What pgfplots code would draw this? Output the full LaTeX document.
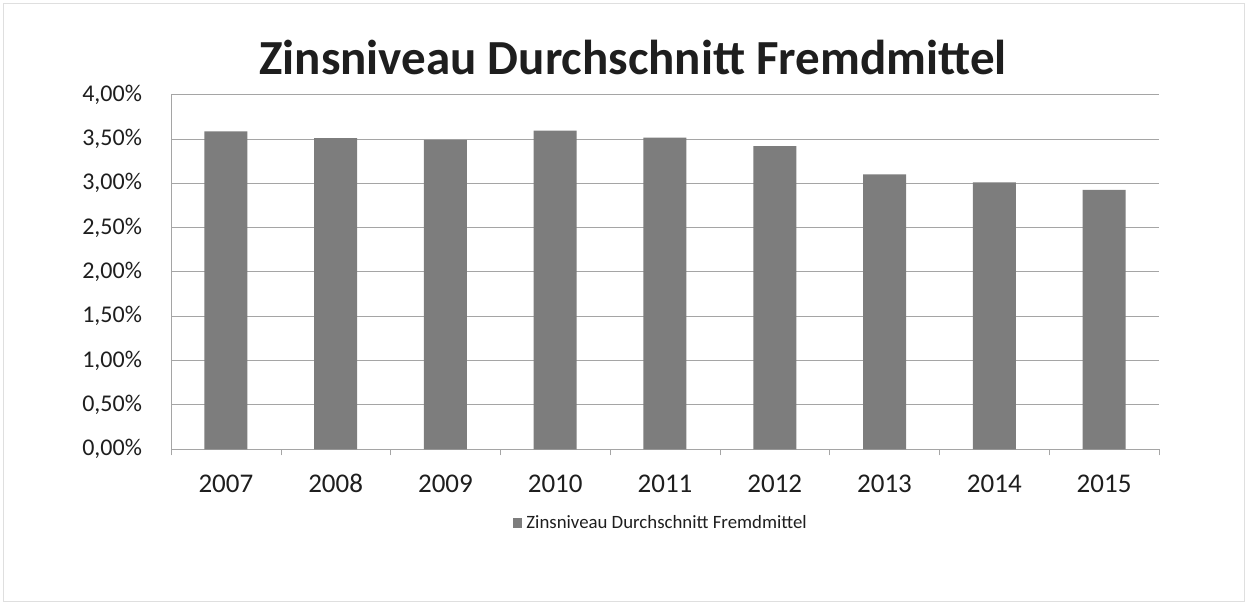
\documentclass[border=0pt]{standalone}
\usepackage{pgfplots}
\pgfplotsset{compat=1.18}
\usepackage{fontspec}
\setmainfont{Carlito}
\definecolor{barg}{RGB}{125,125,125}
\definecolor{gridg}{RGB}{165,165,165}
\definecolor{txt}{RGB}{30,30,30}
\begin{document}
\begin{tikzpicture}
\useasboundingbox (0,0) rectangle (623.5pt,301.5pt);
\draw[gray!25,line width=0.4pt] (1.5pt,1pt) rectangle (622pt,300pt);
\begin{axis}[
  at={(85.5pt,76.85pt)}, anchor=south west,
  scale only axis, width=494pt, height=177.3pt,
  xmin=-0.5, xmax=8.5, ymin=0, ymax=4,
  axis x line*=bottom, axis y line*=left,
  axis line style={gridg, line width=0.5pt, -},
  xtick={0,...,8},
  xticklabels={2007,2008,2009,2010,2011,2012,2013,2014,2015},
  x tick label style={font=\fontsize{13.5pt}{16pt}\selectfont, text=txt, anchor=base, yshift=-21.4pt},
  major x tick style={draw=none},
  extra x ticks={-0.5,0.5,...,8.5},
  extra x tick labels={},
  extra x tick style={tick align=outside, major tick length=3pt, grid=none, major x tick style={draw=gridg}},
  ytick={0,0.5,...,4},
  yticklabels={{0,00\%},{0,50\%},{1,00\%},{1,50\%},{2,00\%},{2,50\%},{3,00\%},{3,50\%},{4,00\%}},
  y tick label style={font=\fontsize{12pt}{14pt}\selectfont, text=txt, xshift=-11pt},
  major y tick style={draw=none},
  ymajorgrids, grid style={gridg, line width=0.5pt},
  title={\bfseries Zinsniveau Durchschnitt Fremdmittel},
  title style={at={(0.4676,1.0556)}, anchor=base, yshift=-6pt, font=\fontsize{24.5pt}{28pt}\selectfont, text=txt},
  legend style={at={(0.497,-0.208)}, anchor=center, draw=none, fill=none, font=\fontsize{9.4pt}{11pt}\selectfont, text=txt},
  legend image code/.code={\fill[barg] (0pt,-2.3pt) rectangle (4.6pt,2.3pt);},
]
\addplot[ybar, bar width=21.5pt, bar shift=0pt, fill=barg, draw=none]
  coordinates {(0,3.585) (1,3.51) (2,3.49) (3,3.595) (4,3.515) (5,3.42) (6,3.10) (7,3.01) (8,2.925)};
\addlegendentry{Zinsniveau Durchschnitt Fremdmittel}
\end{axis}
\end{tikzpicture}
\end{document}
